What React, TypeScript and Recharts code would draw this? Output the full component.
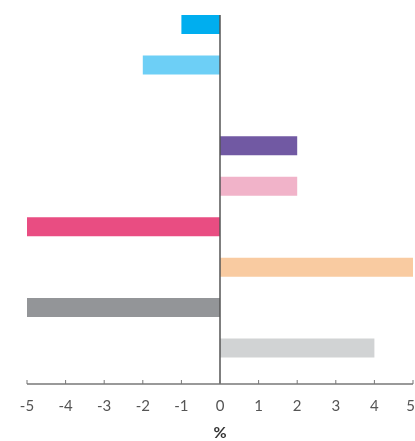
import { BarChart, Bar, XAxis, YAxis, Cell, ReferenceLine } from "recharts";

const categories = ["A", "B", "C", "D", "E", "F", "G", "H", "I"];
const values = [-1, -2, null, 2, 2, -5, 5, -5, 4];
const colors = [
  "#00aeef",
  "#6dcff6",
  "#ffffff",
  "#7159a3",
  "#f1b3c9",
  "#e94d82",
  "#f9cba1",
  "#939598",
  "#d1d3d4",
];
const xTicks = [-5, -4, -3, -2, -1, 0, 1, 2, 3, 4, 5];

const data = categories.map((name, i) => ({ name, value: values[i] }));

// keep the last label inside the picture
const Tick = ({ x, y, payload }) => {
  const last = payload.value === xTicks[xTicks.length - 1];
  return (
    <text
      x={last ? x + 2 : x}
      y={y}
      dy="0.71em"
      textAnchor={last ? "end" : "middle"}
      fill="#555"
      fontSize={15}
      fontFamily="Lato"
    >
      {payload.value}
    </text>
  );
};

const App = () => {
  return (
    <div style={{ position: "fixed", left: 0, top: 0 }}>
      <BarChart
        width={415}
        height={441}
        data={data}
        layout="vertical"
        margin={{ top: 15, right: 2, bottom: 0, left: 27 }}
      >
        <XAxis
          type="number"
          domain={[-5, 5]}
          ticks={xTicks}
          interval={0}
          height={57}
          axisLine={{ stroke: "#777", strokeWidth: 1.5 }}
          tickLine={{ stroke: "#777" }}
          tickSize={-4}
          tickMargin={20}
          tick={<Tick />}
          label={{
            value: "%",
            position: "insideBottom",
            offset: 3,
            fill: "#333",
            fontSize: 16,
            fontWeight: "bold",
            fontFamily: "Lato",
          }}
        />
        <YAxis type="category" dataKey="name" hide padding={{ top: -11, bottom: 16 }} />
        <Bar dataKey="value" barSize={19} isAnimationActive={false}>
          {data.map((d, i) => (
            <Cell key={d.name} fill={colors[i]} />
          ))}
        </Bar>
        <ReferenceLine x={0} stroke="#555" strokeWidth={1.5} />
      </BarChart>
    </div>
  );
};

export default App;
